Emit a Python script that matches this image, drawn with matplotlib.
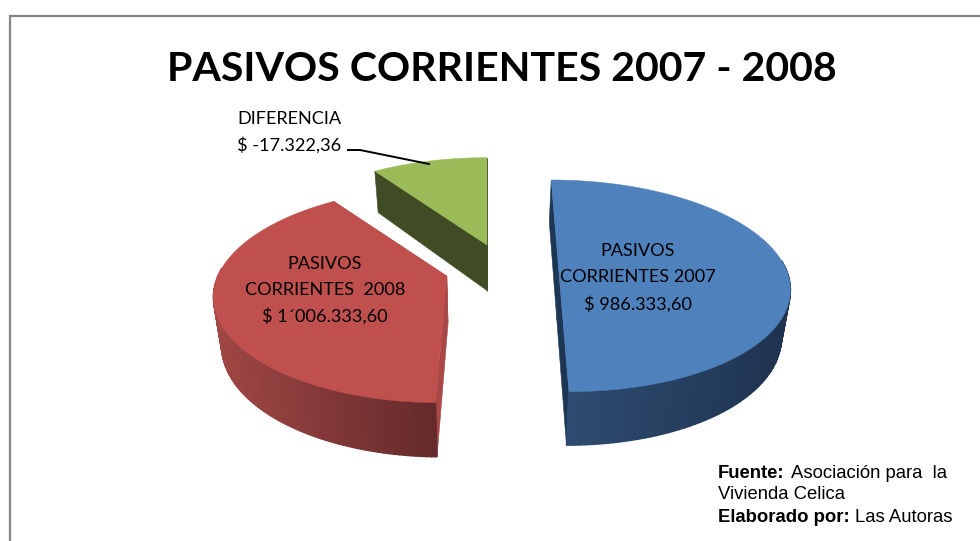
import numpy as np
import matplotlib
matplotlib.use('Agg')
import matplotlib.pyplot as plt
from matplotlib.colors import to_rgb

# share of the pie as drawn, in percent (clockwise from 12 o'clock)
slice_names = ['2007', '2008', 'diferencia']
slice_shares = [50.0, 40.6, 9.4]
draw_order = [2, 1, 0]

title_text = 'PASIVOS CORRIENTES 2007 - 2008'
label_2007 = ['PASIVOS', 'CORRIENTES 2007', '$ 986.333,60']
label_2008 = ['PASIVOS', 'CORRIENTES  2008', '$ 1´006.333,60']
label_dif = ['DIFERENCIA', '$ -17.322,36']

# look of each slice: explode offset (in radii), top colour, rim colours, radial wall
styles = {
    '2007': dict(ex=72 / 232, ez=0.0, apex_dz=0.0, trim=0.0, top='#4f81bd', rim=('#2f4e74', '#1f3350'), wall='#1d3654'),
    '2008': dict(ex=-40 / 232, ez=-0.08, apex_dz=0.05, trim=1.2, top='#c0504d', rim=('#a04745', '#652a2b'), wall='#a84846'),
    'diferencia': dict(ex=0.0, ez=0.273, apex_dz=0.0, trim=0.0, top='#9bbb59', rim=('#404d24', '#404d24'), wall='#404d24'),
}

# perspective of the plane the pie lies on
cx = 487.0
horizon = -588.0
plane_a = 861.0
k = 0.123
R = 232.0
depth = 47.0
lean = 0.97


def project(X, Z, bottom=False):
    s = 1.0 / (1.0 + k * Z)
    f = lean if bottom else 1.0
    return cx + R * X * s * f, horizon + (plane_a + (depth if bottom else 0.0)) * s


def mix(c1, c2, t):
    a, b = np.array(to_rgb(c1)), np.array(to_rgb(c2))
    return tuple(a + (b - a) * t)


def draw_slice(ax, st, t0, t1):
    th = np.radians(np.linspace(t0 + st['trim'], t1, 120))
    X = st['ex'] + np.sin(th) * 0.985
    Z = st['ez'] + np.cos(th) * 0.985
    az = st['ez'] + st['apex_dz']

    # radial walls first
    for i in (0, -1):
        xt, yt = project(np.array([st['ex'], X[i]]), np.array([az, Z[i]]))
        xb, yb = project(np.array([st['ex'], X[i]]), np.array([az, Z[i]]), bottom=True)
        ax.fill([xt[0], xt[1], xb[1], xb[0]], [yt[0], yt[1], yb[1], yb[0]],
                color=st['wall'], lw=0.4, zorder=2)

    # rim, shaded along its length
    xt, yt = project(X, Z)
    xb, yb = project(X, Z, bottom=True)
    for i in range(len(th) - 1):
        if np.cos(th[i]) > 0.12:
            continue
        u = (xt[i] - xt.min()) / (xt.max() - xt.min())
        col = mix(st['rim'][0], st['rim'][1], u)
        ax.fill([xt[i], xt[i + 1], xb[i + 1], xb[i]], [yt[i], yt[i + 1], yb[i + 1], yb[i]],
                color=col, lw=1.0, zorder=3)

    # top face
    ax0, ay0 = project(st['ex'], az)
    ax.fill(np.r_[ax0, xt], np.r_[ay0, yt], color=st['top'], lw=0.3, zorder=4)


fig = plt.figure(figsize=(9.8, 5.41), dpi=100)
ax = fig.add_axes([0, 0, 1, 1])
ax.set_xlim(0, 980)
ax.set_ylim(541, 0)
ax.axis('off')

# chart frame, runs off the picture at right and bottom
ax.plot([9.5, 9.5, 980], [541, 15.5, 15.5], color='#868686', lw=1.6, solid_joinstyle='miter', zorder=1)

angles = np.cumsum([0.0] + [v * 3.6 for v in slice_shares])
spans = {n: (angles[i], angles[i + 1]) for i, n in enumerate(slice_names)}
for i in draw_order:
    n = slice_names[i]
    draw_slice(ax, styles[n], spans[n][0], spans[n][1])

ax.text(501.5, 69.5, title_text, family='Lato', weight='bold', fontsize=29.6, ha='center', va='center', color='black', zorder=6)

txt = dict(family='Lato', fontsize=13.1, ha='center', va='center', color='black', zorder=6)
for line, y in zip(label_2007, [251, 277, 304]):
    ax.text(638, y, line, **txt)
for line, y in zip(label_2008, [264, 290, 316]):
    ax.text(325, y, line, **txt)
for line, y in zip(label_dif, [119, 145]):
    ax.text(289, y, line, **txt)

# leader line of DIFERENCIA
ax.plot([348, 360, 429], [150, 150, 164], color='black', lw=1.4, zorder=6)

foot = dict(family='Liberation Sans', fontsize=13.3, va='center', color='black', zorder=6)
ax.text(718, 473, 'Fuente:', weight='bold', **foot)
ax.text(791, 473, 'Asociación para  la', **foot)
ax.text(718, 494.5, 'Vivienda Celica', **foot)
ax.text(718, 517, 'Elaborado por:', weight='bold', **foot)
ax.text(855, 517, 'Las Autoras', **foot)

fig.savefig('out.png', dpi=100)
